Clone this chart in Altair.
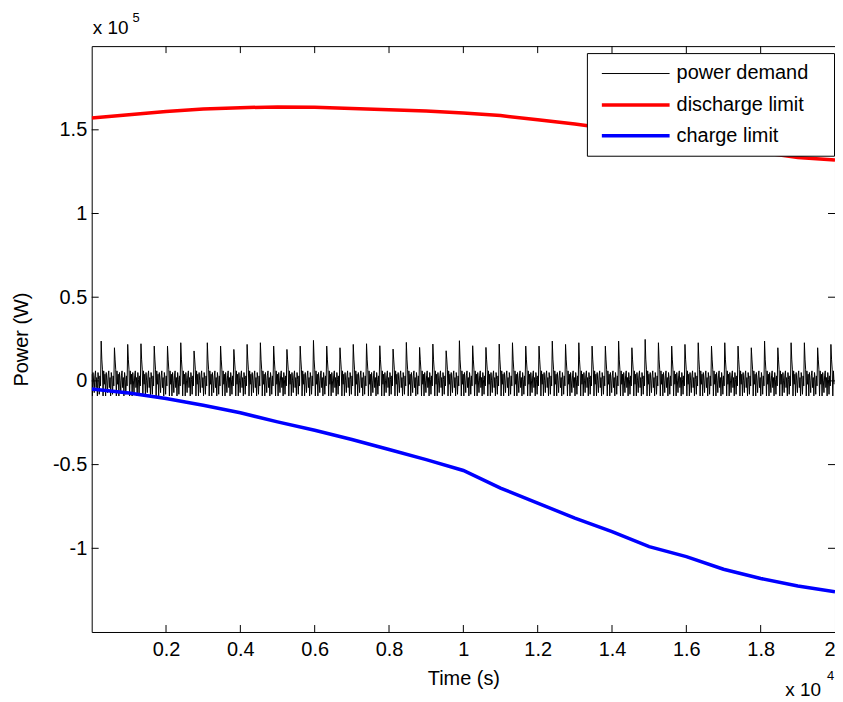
import altair as alt
import pandas as pd

# ---------------- data ----------------
series_names = ["power demand", "discharge limit", "charge limit"]
series_colors = ["#000000", "#ff0000", "#0000ff"]
series_widths = [1.0, 3.5, 3.5]

# one repeating drive-cycle shape of the power demand (x 1e5 W); None = the spike
cycle_step_s = 17
cycle_shape = [0.04, -0.09, 0.05, 0.00, -0.07, 0.03, 0.06, -0.04, 0.02, -0.09,
               0.05, 0.01, -0.08, 0.03, -0.03, None, 0.13, 0.07, -0.09, 0.06, -0.02]
# spike height of each of the 56 cycles (x 1e5 W)
cycle_peaks = [0.238, 0.198, 0.218, 0.222, 0.208, 0.208, 0.228, 0.179, 0.228, 0.208,
               0.188, 0.218, 0.228, 0.208, 0.188, 0.208, 0.242, 0.208, 0.198, 0.218,
               0.222, 0.210, 0.190, 0.230, 0.200, 0.220, 0.180, 0.240, 0.210, 0.200,
               0.220, 0.228, 0.208, 0.208, 0.238, 0.218, 0.228, 0.208, 0.208, 0.238,
               0.198, 0.248, 0.228, 0.208, 0.218, 0.228, 0.208, 0.228, 0.208, 0.198,
               0.238, 0.198, 0.228, 0.228, 0.198, 0.218]

limit_time = [0, 1000, 2000, 3000, 4000, 5000, 6000, 7000, 8000, 9000, 10000,
              11000, 12000, 13000, 14000, 15000, 16000, 17000, 18000, 19000, 20000]
discharge_limit = [1.570, 1.590, 1.610, 1.625, 1.632, 1.637, 1.635, 1.628, 1.620, 1.612,
                   1.600, 1.585, 1.560, 1.535, 1.505, 1.475, 1.445, 1.410, 1.365, 1.335, 1.320]
charge_limit = [-0.048, -0.072, -0.105, -0.145, -0.190, -0.245, -0.295, -0.350, -0.410, -0.470,
                -0.535, -0.640, -0.730, -0.820, -0.900, -0.990, -1.050, -1.125, -1.180, -1.225, -1.260]

x_tick_values = [2000, 4000, 6000, 8000, 10000, 12000, 14000, 16000, 18000, 20000]
y_tick_values = [-100000, -50000, 0, 50000, 100000, 150000]

# ---------------- tables ----------------
rows = []
n_shape = len(cycle_shape)
for c, pk in enumerate(cycle_peaks):
    for i, v in enumerate(cycle_shape):
        t = (c * n_shape + i) * cycle_step_s
        rows.append({"t": t, "p": (pk if v is None else v) * 1e5, "series": "power demand"})
demand_df = pd.DataFrame(rows)
dis_df = pd.DataFrame({"t": limit_time, "p": [v * 1e5 for v in discharge_limit],
                       "series": "discharge limit"})
chg_df = pd.DataFrame({"t": limit_time, "p": [v * 1e5 for v in charge_limit],
                       "series": "charge limit"})
xt_df = pd.DataFrame({"v": x_tick_values[:-1]})
yt_df = pd.DataFrame({"v": y_tick_values})
one_df = pd.DataFrame({"a": [0]})

W, H = 746, 588
FONT = "Liberation Sans"
FS = 20
TL = 7  # inward tick length

xscale = alt.Scale(domain=[0, 20000], nice=False, zero=False)
yscale = alt.Scale(domain=[-150000, 200000], nice=False, zero=False)
cscale = alt.Scale(domain=series_names, range=series_colors)
wscale = alt.Scale(type="ordinal", domain=series_names, range=series_widths)

PAD_CHAR = "\u2800"  # blank (non-whitespace) glyph to widen the legend box
legend = alt.Legend(
    title=None, orient="none", legendX=497, legendY=7,
    symbolType="M-3.4,0H3.4", symbolSize=400, symbolOffset=27, labelOffset=29,
    symbolStrokeWidth=3.5,
    padding=10, rowPadding=9, labelFont=FONT, labelFontSize=FS, labelColor="black",
    labelLimit=400,
    strokeColor="black", fillColor="white", cornerRadius=0,
    labelExpr="datum.label + '" + PAD_CHAR + "'",
)

x_enc = alt.X("t:Q", scale=xscale, title="Time (s)",
              axis=alt.Axis(values=x_tick_values, labelExpr="toString(datum.value / 10000)",
                            ticks=False, domain=False, grid=False, labelPadding=8,
                            titlePadding=9))
y_enc = alt.Y("p:Q", scale=yscale, title="Power (W)",
              axis=alt.Axis(values=y_tick_values, labelExpr="toString(datum.value / 100000)",
                            ticks=False, domain=False, grid=False, labelPadding=5,
                            titlePadding=21))
color_enc = alt.Color("series:N", scale=cscale, legend=legend)
width_enc = alt.StrokeWidth("series:N", scale=wscale, legend=None)

def line_layer(df):
    return alt.Chart(df).mark_line(clip=True).encode(
        x=x_enc, y=y_enc, color=color_enc, strokeWidth=width_enc)

demand = line_layer(demand_df)
dis = line_layer(dis_df)
chg = line_layer(chg_df)

xt_kw = dict(x=alt.X("v:Q", scale=xscale))
yt_kw = dict(y=alt.Y("v:Q", scale=yscale))
tick_bottom = alt.Chart(xt_df).mark_rule(color="black", strokeWidth=1).encode(
    y=alt.value(H - TL), y2=alt.value(H), **xt_kw)
tick_top = alt.Chart(xt_df).mark_rule(color="black", strokeWidth=1).encode(
    y=alt.value(0), y2=alt.value(TL), **xt_kw)
tick_left = alt.Chart(yt_df).mark_rule(color="black", strokeWidth=1).encode(
    x=alt.value(0), x2=alt.value(TL), **yt_kw)
tick_right = alt.Chart(yt_df).mark_rule(color="black", strokeWidth=1).encode(
    x=alt.value(W - TL), x2=alt.value(W), **yt_kw)

def txt(s, x, y, size):
    return alt.Chart(one_df).mark_text(align="left", baseline="alphabetic", font=FONT,
                                       fontSize=size, color="black").encode(
        x=alt.value(x), y=alt.value(y), text=alt.value(s))

exp_y = txt("x 10", 1, -12, 19) + txt("5", 41, -24, 13)
exp_x = txt("x 10", 696, 652, 19) + txt("4", 738, 636, 13)

chart = alt.layer(
    demand, dis, chg, tick_bottom, tick_top, tick_left, tick_right, exp_y, exp_x
).properties(
    width=W, height=H,
    padding={"left": 84, "top": 37, "right": 0, "bottom": 68},
    autosize="none",
    background="white",
).configure_view(
    stroke="black", strokeWidth=1
).configure_axis(
    labelFont=FONT, labelFontSize=FS, labelColor="black",
    titleFont=FONT, titleFontSize=FS, titleFontWeight="normal", titleColor="black",
)

chart.save("out.html", embed_options={"renderer": "svg", "actions": False})
